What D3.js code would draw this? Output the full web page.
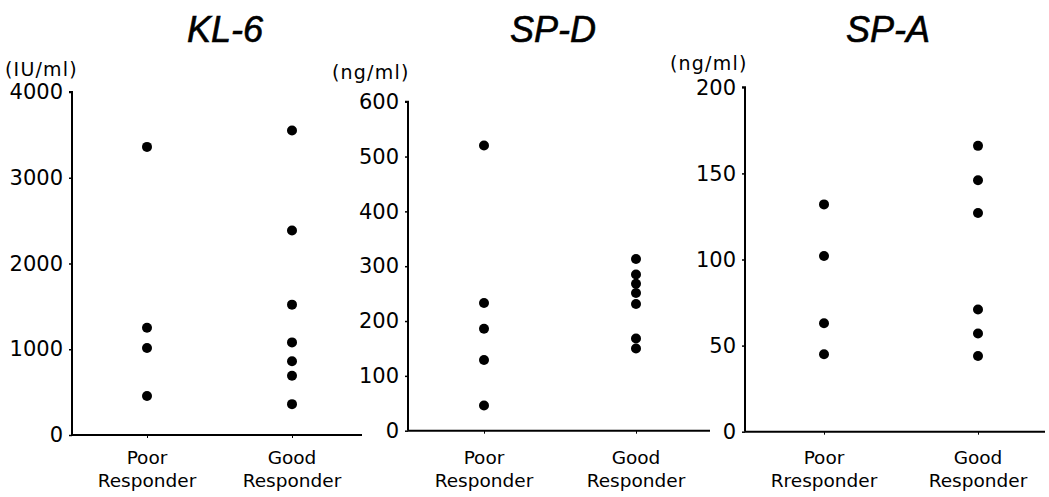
<!DOCTYPE html>
<html>
<head>
<meta charset="utf-8">
<script src="https://cdn.jsdelivr.net/npm/d3@7"></script>
<style>
  html, body { margin: 0; padding: 0; background: #fff; }
  svg { display: block; }
</style>
</head>
<body>
<svg id="chart" width="1049" height="497"></svg>
<script>
// ---------------- data ----------------
const titles = ["KL-6", "SP-D", "SP-A"];
const units = ["(IU/ml)", "(ng/ml)", "(ng/ml)"];
const categoriesKL6 = [["Poor", "Responder"], ["Good", "Responder"]];
const categoriesSPD = [["Poor", "Responder"], ["Good", "Responder"]];
const categoriesSPA = [["Poor", "Rresponder"], ["Good", "Responder"]];

const kl6Poor = [3360, 1250, 1015, 455];
const kl6Good = [3550, 2385, 1520, 1080, 860, 690, 360];
const spdPoor = [520, 233, 186, 129, 46];
const spdGood = [313, 285, 268, 251, 231, 168, 150];
const spaPoor = [132, 102, 63, 45];
const spaGood = [166, 146, 127, 71, 57, 44];

const kl6Ticks = [0, 1000, 2000, 3000, 4000];
const spdTicks = [0, 100, 200, 300, 400, 500, 600];
const spaTicks = [0, 50, 100, 150, 200];

// ---------------- layout ----------------
const panels = [
  { title: titles[0], unit: units[0], cats: categoriesKL6, poor: kl6Poor, good: kl6Good, ticks: kl6Ticks,
    axisX: 72, top: 92, bottom: 435, xEnd: 362, poorX: 147, goodX: 292, titleX: 225, unitX: 5, unitY: 76 },
  { title: titles[1], unit: units[1], cats: categoriesSPD, poor: spdPoor, good: spdGood, ticks: spdTicks,
    axisX: 408, top: 101.7, bottom: 430.7, xEnd: 710, poorX: 484, goodX: 636, titleX: 553, unitX: 332, unitY: 79 },
  { title: titles[2], unit: units[2], cats: categoriesSPA, poor: spaPoor, good: spaGood, ticks: spaTicks,
    axisX: 745, top: 87.3, bottom: 431.7, xEnd: 1045, poorX: 824, goodX: 978, titleX: 888, unitX: 670, unitY: 70 }
];

const svg = d3.select("#chart");
const textFont = "'DejaVu Sans', sans-serif";

panels.forEach(p => {
  const g = svg.append("g");
  const maxV = p.ticks[p.ticks.length - 1];
  const y = d3.scaleLinear().domain([0, maxV]).range([p.bottom, p.top]);
  const x = d3.scalePoint().domain(["Poor", "Good"]).range([p.poorX, p.goodX]);

  // title
  g.append("text")
    .attr("x", p.titleX).attr("y", 42)
    .attr("text-anchor", "middle")
    .attr("font-family", "'Liberation Sans', Arial, sans-serif")
    .attr("font-style", "italic")
    .attr("font-size", 36)
    .attr("fill", "#000")
    .attr("stroke", "#000")
    .attr("stroke-width", 0.6)
    .text(p.title);

  // unit
  g.append("text")
    .attr("x", p.unitX).attr("y", p.unitY)
    .attr("font-family", textFont)
    .attr("font-size", 19)
    .attr("letter-spacing", 1.2)
    .attr("fill", "#000")
    .text(p.unit);

  // y axis
  const yAxis = d3.axisLeft(y).tickValues(p.ticks).tickSize(3).tickPadding(6).tickFormat(d3.format("d"));
  const ya = g.append("g").attr("transform", `translate(${p.axisX},0)`).call(yAxis);
  ya.select(".domain").attr("stroke", "#000").attr("stroke-width", 2).attr("d", `M-3,${p.top}H0V${p.bottom}`);
  ya.selectAll(".tick line").attr("stroke", "#000").attr("stroke-width", 1.5);
  ya.selectAll(".tick text")
    .attr("font-family", textFont)
    .attr("font-size", 21)
    .attr("fill", "#000");

  // x axis baseline
  const xAxis = d3.axisBottom(x).tickSize(3).tickFormat("");
  const xa = g.append("g").attr("transform", `translate(0,${p.bottom})`).call(xAxis);
  xa.select(".domain").attr("stroke", "#000").attr("stroke-width", 2).attr("d", `M${p.axisX},0H${p.xEnd}`);
  xa.selectAll(".tick line").attr("stroke", "#000").attr("stroke-width", 1);

  // category labels
  ["Poor", "Good"].forEach((c, i) => {
    const t = g.append("text")
      .attr("text-anchor", "middle")
      .attr("font-family", textFont)
      .attr("font-size", 18.5)
      .attr("fill", "#000");
    t.append("tspan").attr("x", x(c)).attr("y", 464).text(p.cats[i][0]);
    t.append("tspan").attr("x", x(c)).attr("y", 487).text(p.cats[i][1]);
  });

  // dots
  g.selectAll("circle.poor").data(p.poor).enter().append("circle")
    .attr("class", "poor")
    .attr("cx", x("Poor")).attr("cy", d => y(d)).attr("r", 5).attr("fill", "#000");
  g.selectAll("circle.good").data(p.good).enter().append("circle")
    .attr("class", "good")
    .attr("cx", x("Good")).attr("cy", d => y(d)).attr("r", 5).attr("fill", "#000");
});
</script>
</body>
</html>
